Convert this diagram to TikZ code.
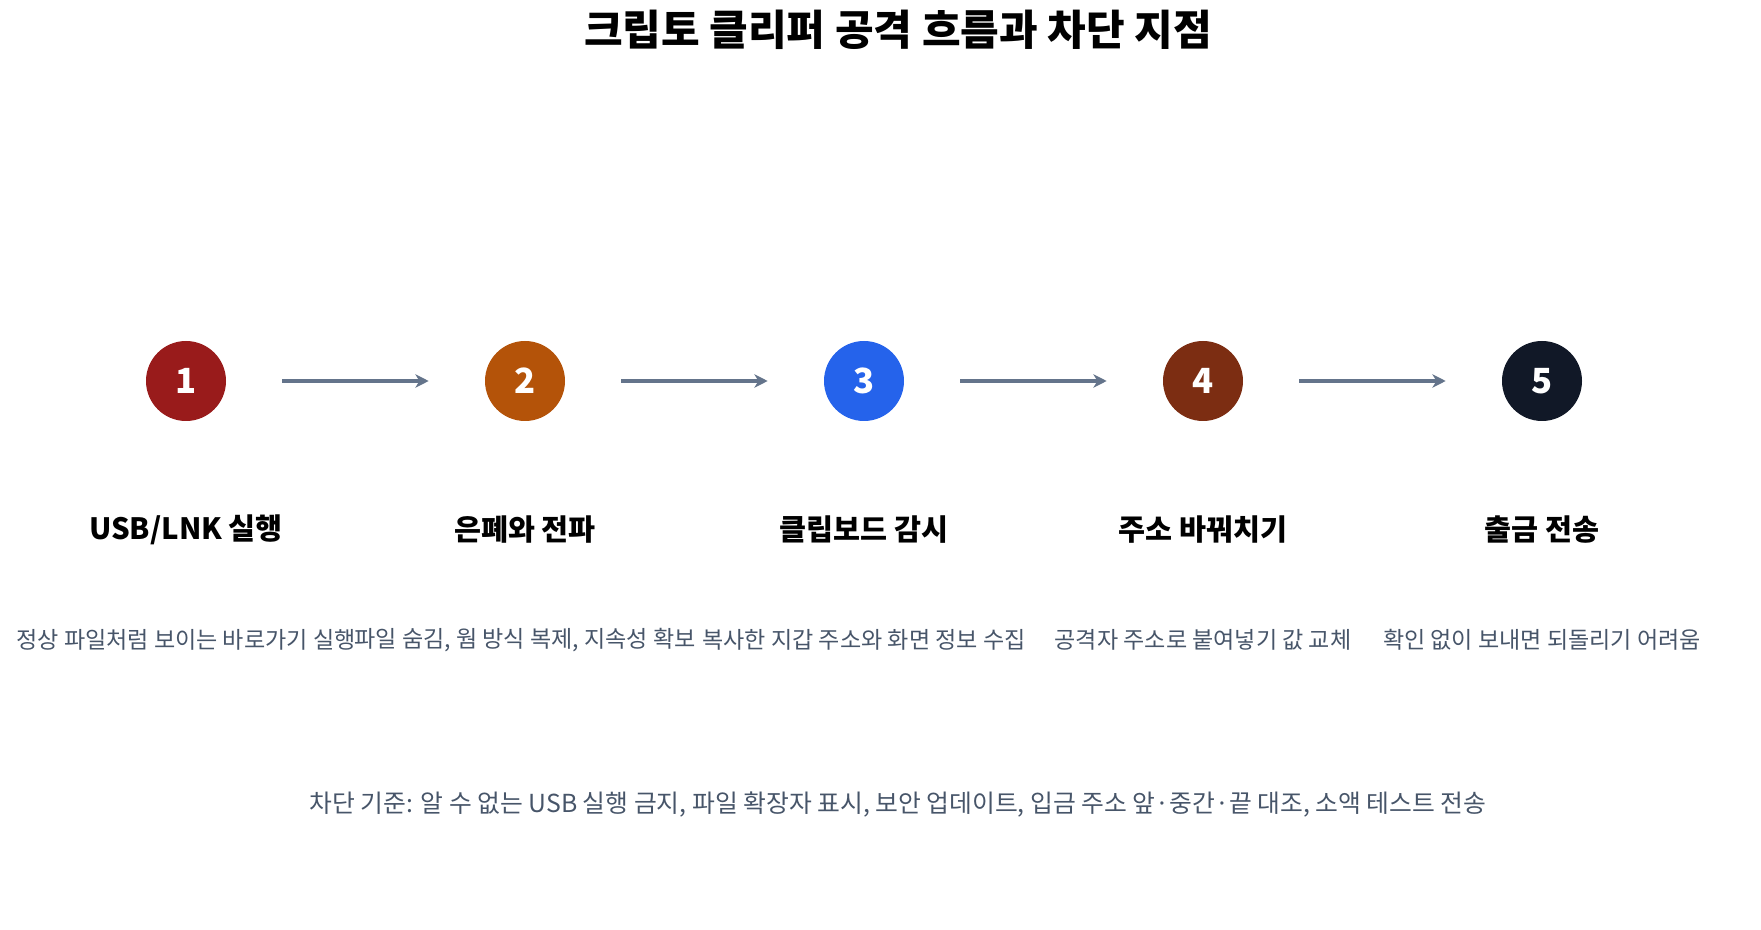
\documentclass[tikz,border=0pt]{standalone}
\usepackage{fontspec}
\setmainfont{Noto Sans CJK KR}
\usetikzlibrary{arrows.meta}
\definecolor{c1}{HTML}{991B1B}\definecolor{c2}{HTML}{B45309}\definecolor{c3}{HTML}{2563EB}
\definecolor{c4}{HTML}{7C2D12}\definecolor{c5}{HTML}{111827}
\definecolor{arr}{HTML}{64748B}\definecolor{txt}{HTML}{475569}
\tikzset{stepcirc/.style={circle,minimum size=60pt,inner sep=0pt,text=white,font=\bfseries\fontsize{26}{30}\selectfont},
lab/.style={font=\bfseries\fontsize{22}{26}\selectfont},
desc/.style={text=txt,font=\fontsize{17.3}{20}\selectfont,inner sep=0pt},
flow/.style={draw=arr,line width=3pt,-{Stealth[length=10pt,width=10pt,inset=3pt]}}}
\begin{document}
\begin{tikzpicture}[x=0.75pt,y=-0.75pt]
\useasboundingbox (0,0) rectangle (1761,930);
\node[font=\bfseries\fontsize{31.5}{36}\selectfont] (title) at (898,30) {크립토 클리퍼 공격 흐름과 차단 지점};
\foreach \i/\x/\l/\d in {1/186/{USB/LNK 실행}/정상 파일처럼 보이는 바로가기 실행,2/525/은폐와 전파/{파일 숨김, 웜 방식 복제, 지속성 확보},3/864/클립보드 감시/복사한 지갑 주소와 화면 정보 수집,4/1203/주소 바꿔치기/공격자 주소로 붙여넣기 값 교체,5/1542/출금 전송/확인 없이 보내면 되돌리기 어려움}{
\node[stepcirc,fill=c\i] (s\i) at (\x,381) {\i};
\node[lab] (l\i) at (\x,530) {\l};
\node[desc] (d\i) at (\x,640) {\d};
}
\foreach \a/\b in {1/2,2/3,3/4,4/5}{\draw[flow] ([xshift=42pt]s\a.east) -- ([xshift=-42pt]s\b.west);}
\node[desc,font=\fontsize{18.6}{22}\selectfont] (note) at (898,805) {차단 기준: 알 수 없는 USB 실행 금지, 파일 확장자 표시, 보안 업데이트, 입금 주소 앞·중간·끝 대조, 소액 테스트 전송};
\end{tikzpicture}
\end{document}
